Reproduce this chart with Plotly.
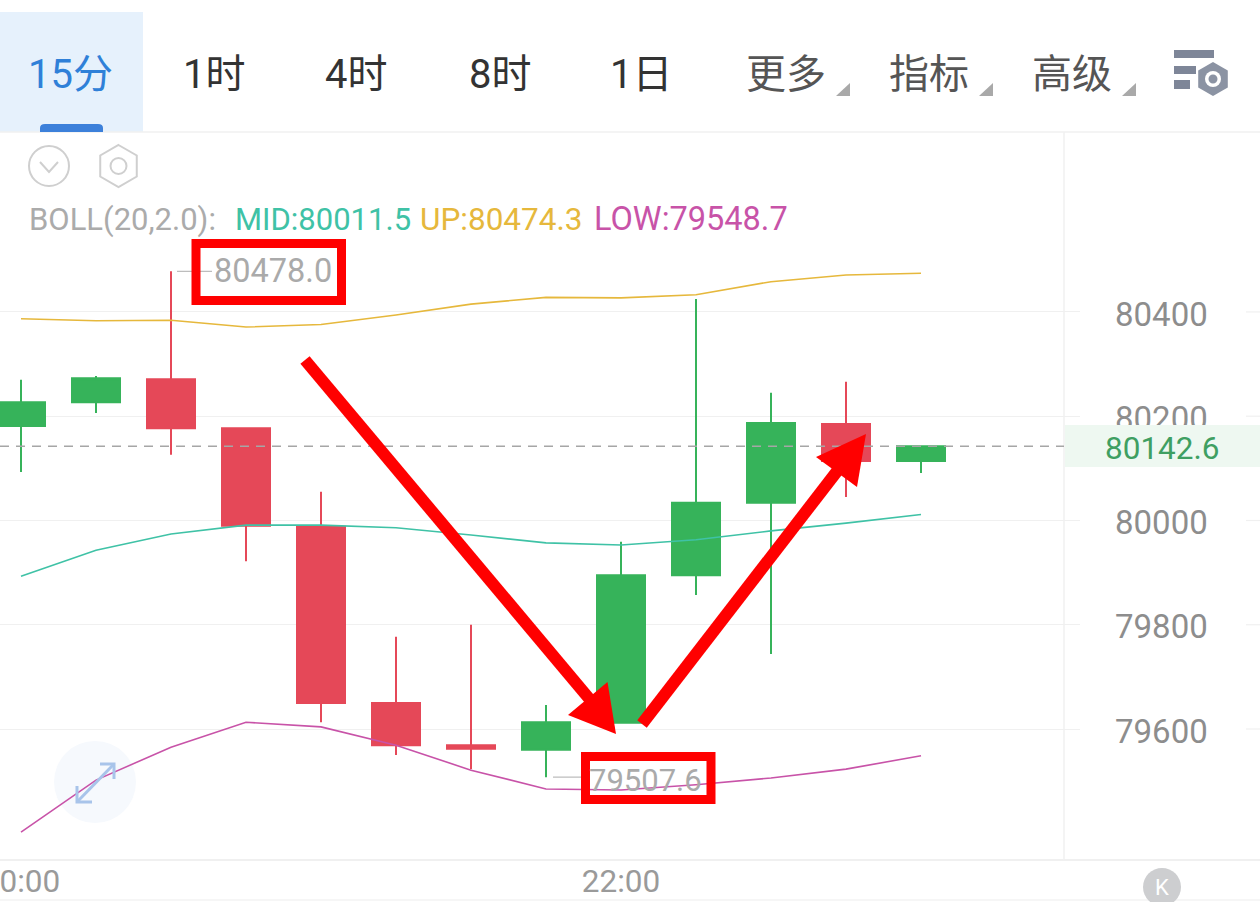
import plotly.graph_objects as go

W, H = 1260, 902

times = ["20:00", "20:15", "20:30", "20:45", "21:00", "21:15", "21:30", "21:45",
         "22:00", "22:15", "22:30", "22:45", "23:00"]
open_ = [80181, 80227, 80271, 80177, 79988, 79650, 79569, 79560, 79612, 79895, 80034, 80185, 80114]
high = [80270, 80277, 80478.0, 80177, 80055, 79777, 79800, 79646, 79959, 80425, 80245, 80266, 80142.6]
low = [80093, 80206, 80126, 79922, 79613, 79550, 79523, 79507.6, 79612, 79857, 79744, 80045, 80091]
close = [80227, 80273, 80177, 79990, 79650, 79569, 79562, 79613, 79895, 80034, 80187, 80114, 80142.6]
boll_mid = [79893, 79943, 79974, 79991, 79991, 79986, 79972, 79957, 79953, 79963, 79980, 79995, 80011.5]
boll_up = [80387, 80383, 80384, 80371, 80376, 80394, 80415, 80428, 80427, 80433, 80458, 80471, 80474.3]
boll_low = [79402, 79502, 79565, 79613, 79604, 79569, 79521, 79485, 79483, 79493, 79506, 79523, 79548.7]
y_ticks = [79600, 79800, 80000, 80200, 80400]
x_ticks = ["20:00", "22:00"]
tabs = ["15分", "1时", "4时", "8时", "1日", "更多", "指标", "高级"]
last_price = 80142.6

GREEN, RED = "#36b35a", "#e54858"
TEAL, GOLD, PINK = "#3fc2a6", "#e6b83c", "#c853a8"
FONT = "Roboto, 'Noto Sans CJK SC', sans-serif"


def px(x):
    return x / W


def py(y):
    return 1 - y / H


def poly(points):
    return "M " + " L ".join(f"{px(x):.5f},{py(y):.5f}" for x, y in points) + " Z"


def line(points):
    return "M " + " L ".join(f"{px(x):.5f},{py(y):.5f}" for x, y in points)


def ref_rect(x0, y0, x1, y1, fill=None, color=None, width=0, layer="above"):
    return dict(type="rect", xref="paper", yref="paper", x0=px(x0), x1=px(x1), y0=py(y0), y1=py(y1),
                fillcolor=fill or "rgba(0,0,0,0)", line=dict(color=color or "rgba(0,0,0,0)", width=width), layer=layer)


def ref_circle(cx, cy, r, fill=None, color=None, width=0, layer="above"):
    return ref_rect(cx - r, cy - r, cx + r, cy + r, fill, color, width, layer) | {"type": "circle"}


def ref_path(path, fill=None, color=None, width=0, layer="above"):
    return dict(type="path", xref="paper", yref="paper", path=path, fillcolor=fill or "rgba(0,0,0,0)",
                line=dict(color=color or "rgba(0,0,0,0)", width=width), layer=layer)


def hexagon(cx, cy, r):
    return [(cx, cy - r), (cx + r * 0.87, cy - r / 2), (cx + r * 0.87, cy + r / 2),
            (cx, cy + r), (cx - r * 0.87, cy + r / 2), (cx - r * 0.87, cy - r / 2)]


fig = go.Figure()
fig.add_trace(go.Candlestick(
    x=times, open=open_, high=high, low=low, close=close, whiskerwidth=0,
    increasing=dict(line=dict(color=GREEN, width=2), fillcolor=GREEN),
    decreasing=dict(line=dict(color=RED, width=2), fillcolor=RED),
    hoverinfo="skip", showlegend=False))
for values, color in ((boll_up, GOLD), (boll_mid, TEAL), (boll_low, PINK)):
    fig.add_trace(go.Scatter(x=times, y=values, mode="lines", line=dict(color=color, width=1.6),
                             hoverinfo="skip", showlegend=False))

shapes = [
    ref_circle(95, 782, 41, fill="#f6f9fd", layer="below"),
    ref_rect(0, 12, 143, 132, fill="#e6f1fc", layer="below"),
    ref_path("M " + f"{px(40)},{py(132)} L {px(40)},{py(128)} Q {px(40)},{py(124)} {px(45)},{py(124)} "
             f"L {px(98)},{py(124)} Q {px(103)},{py(124)} {px(103)},{py(128)} L {px(103)},{py(132)} Z",
             fill="#3c80da"),
    ref_path(line([(0, 132), (W, 132)]), color="#f1f1f1", width=1.5, layer="below"),
    ref_path(line([(0, 860), (W, 860)]), color="#f0f0f0", width=2, layer="below"),
    ref_path(line([(0, 900), (W, 900)]), color="#f3f3f3", width=1.5, layer="below"),
    ref_path(line([(1064, 132), (1064, 860)]), color="#f1f1f1", width=1.5, layer="below"),
    # tool icons
    ref_circle(49, 166, 20, color="#cfcfcf", width=2),
    ref_path(line([(40, 162), (49, 172), (58, 162)]), color="#cfcfcf", width=2),
    ref_path(poly(hexagon(118.5, 166, 21)), color="#cfcfcf", width=2),
    ref_circle(118.5, 166, 8, color="#cfcfcf", width=2),
    # toolbar icon
    ref_rect(1174, 50, 1214, 58, fill="#7e8698"),
    ref_rect(1174, 66, 1196, 74, fill="#7e8698"),
    ref_rect(1174, 80, 1190, 89, fill="#7e8698"),
    ref_path(poly(hexagon(1213, 79, 17)), fill="#8b93a3"),
    ref_circle(1213, 79, 8, fill="#ffffff"),
    ref_circle(1213, 79, 4.5, fill="#8b93a3"),
    # expand icon
    ref_path(line([(77, 802), (114, 764)]), color="#a8c4ea", width=3),
    ref_path(line([(100, 764), (114, 764), (114, 779)]), color="#a8c4ea", width=3),
    ref_path(line([(77, 786), (77, 802), (92, 802)]), color="#a8c4ea", width=3),
    # K-line button
    ref_circle(1162, 887, 19, fill="#cdced0"),
]
for tx in (850, 993, 1136):
    shapes.append(ref_path(poly([(tx, 83), (tx, 96), (tx - 14, 96)]), fill="#a9a9a9"))
# price line and price tag
shapes.append(dict(type="line", xref="paper", yref="y", x0=0, x1=px(1064), y0=last_price, y1=last_price,
                   line=dict(color="#a6a6a6", width=1.5, dash="9px,7px"), layer="above"))
shapes.append(ref_rect(1065, 425, W, 467, fill="#eef8f1"))
# grid stubs right of the axis labels
for t in y_ticks:
    shapes.append(dict(type="line", xref="paper", yref="y", x0=px(1246), x1=1, y0=t, y1=t,
                       line=dict(color="#f0f0f0", width=1.2), layer="below"))
# high/low leader lines
shapes.append(dict(type="line", xref="paper", yref="y", x0=px(177), x1=px(212), y0=max(high), y1=max(high),
                   line=dict(color="#bdbdbd", width=1.2), layer="above"))
shapes.append(dict(type="line", xref="paper", yref="y", x0=px(553), x1=px(590), y0=min(low), y1=min(low),
                   line=dict(color="#bdbdbd", width=1.2), layer="above"))
# red drawn callouts
shapes += [
    ref_rect(196, 243.5, 341.5, 300.5, color="#ff0000", width=9),
    ref_rect(585.5, 756.5, 711, 799.5, color="#ff0000", width=9),
    ref_path(line([(305, 360), (592, 702)]), color="#ff0000", width=12),
    ref_path(poly([(616, 734), (607.5, 682), (568, 715)]), fill="#ff0000"),
    ref_path(line([(642, 724), (838, 470)]), color="#ff0000", width=12),
    ref_path(poly([(866, 434), (816, 457), (857, 487)]), fill="#ff0000"),
]

annotations = []


def text(s, x, y, size, color, anchor="center", xref="paper", yref="paper"):
    annotations.append(dict(text=s, x=x, y=y, xref=xref, yref=yref, xanchor=anchor, yanchor="middle",
                            showarrow=False, font=dict(family=FONT, size=size, color=color)))


tab_x = [70, 214, 356, 500, 641, 786, 929, 1072]
tab_col = ["#2f80d8", "#333333", "#333333", "#333333", "#333333", "#555555", "#555555", "#555555"]
for s, x, c in zip(tabs, tab_x, tab_col):
    text(s, px(x), py(75), 40, c)
text("BOLL(20,2.0):", px(27), py(219), 31, "#ababab", "left")
text(f"MID:{boll_mid[-1]}", px(233), py(219), 31, TEAL, "left")
text(f"UP:{boll_up[-1]}", px(418), py(219), 31.5, GOLD, "left")
text(f"LOW:{boll_low[-1]}", px(592), py(219), 32.5, PINK, "left")
text(f"{max(high):.1f}", px(212), max(high), 32.5, "#aaaaaa", "left", yref="y")
text(f"{min(low):.1f}", px(587), min(low) - 6, 31, "#aaaaaa", "left", yref="y")
text(str(last_price), px(1162), py(448), 31.5, "#3f9f62")
text("K", px(1162), py(887), 22, "#ffffff")

fig.update_layout(
    width=W, height=H, margin=dict(l=0, r=0, t=0, b=0, autoexpand=False),
    paper_bgcolor="#ffffff", plot_bgcolor="#ffffff",
    showlegend=False, hovermode=False, boxgap=0.36, boxgroupgap=0,
    shapes=shapes, annotations=annotations, font=dict(family=FONT),
    xaxis=dict(domain=[0, 1080 / W], type="category", range=[-0.28, 14.12], rangeslider=dict(visible=False),
               tickmode="array", tickvals=x_ticks, ticktext=x_ticks, showgrid=False, zeroline=False,
               showline=False, ticks="", ticklabelstandoff=-1, automargin=False,
               tickfont=dict(family=FONT, size=31.5, color="#9a9a9a"), fixedrange=True),
    yaxis=dict(domain=[1 - 860 / H, 1 - 132 / H], range=[79348.7, 80745.2], side="right",
               tickmode="array", tickvals=y_ticks, showgrid=True, gridcolor="#f0f0f0", gridwidth=1.2,
               zeroline=False, showline=False, ticks="", ticklabelstandoff=34, ticklabelshift=2,
               tickformat="d", automargin=False,
               tickfont=dict(family=FONT, size=33, color="#8d8d8d"), fixedrange=True),
)
fig.write_html("out.html", config=dict(displayModeBar=False),
               post_script="document.body.style.margin='0';document.body.style.overflow='hidden';")
